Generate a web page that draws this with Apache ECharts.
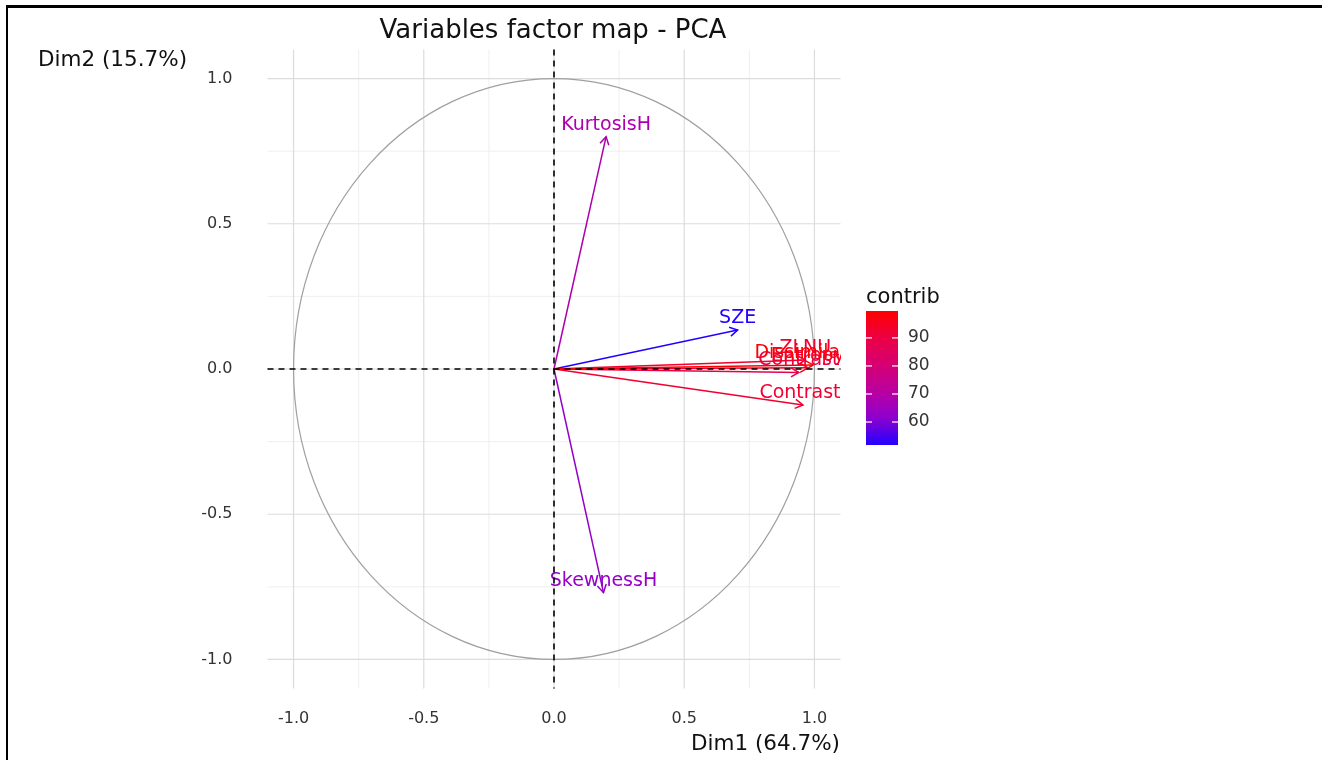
<!DOCTYPE html>
<html><head><meta charset="utf-8">
<script src="https://cdn.jsdelivr.net/npm/echarts@6/dist/echarts.min.js"></script>
<style>html,body{margin:0;padding:0;background:#fff}#c{width:1322px;height:760px}</style>
</head><body><div id="c"></div>
<script>
// ---- data ----
const VAR_NAMES = ['KurtosisH', 'SkewnessH', 'SZE', 'Contrast.', 'Contrast', 'Entropy', 'ZLNU', 'Dissimilarity'];
const DIM1 = [0.200, 0.190, 0.705, 0.956, 0.940, 0.975, 0.965, 0.995];
const DIM2 = [0.800, -0.770, 0.134, -0.124, -0.012, 0.004, 0.031, 0.014];
const CONTRIB = [68, 63, 51.8, 93, 88.5, 95, 93.2, 99.0];
const AXIS_TICKS = [-1, -0.5, 0, 0.5, 1];
const MINOR_TICKS = [-0.75, -0.25, 0.25, 0.75];
const LEGEND_TICKS = [60, 70, 80, 90];
const CONTRIB_MIN = 51.8, CONTRIB_MAX = 99.6;
const AXIS_MIN = -1.1, AXIS_MAX = 1.1;
const CIRCLE_RADIUS = 1;
const GRAD = ['#2200FF', '#8D00CF', '#BA00A0', '#D60072', '#EC0044', '#FF0000'];
const TITLE = 'Variables factor map - PCA';
const XNAME = 'Dim1 (64.7%)', YNAME = 'Dim2 (15.7%)', LEGEND_TITLE = 'contrib';

const FONT = '"DejaVu Sans", sans-serif';
const chart = echarts.init(document.getElementById('c'), null, {renderer: 'canvas'});

const gridData = MINOR_TICKS.map(v => [v, 0]).concat(AXIS_TICKS.map(v => [v, 1]));
const arrowData = VAR_NAMES.map((n, i) => [DIM1[i], DIM2[i], CONTRIB[i]]);

const option = {
  animation: false,
  backgroundColor: '#fff',
  title: {
    text: TITLE, left: 553, top: 18, textAlign: 'center', padding: 0,
    textStyle: {fontFamily: FONT, fontSize: 26, fontWeight: 'normal', color: '#111'}
  },
  grid: [
    {left: 267.5, top: 49.5, width: 573, height: 639},
    {left: 866, top: 311, width: 32, height: 134}
  ],
  xAxis: [
    {gridIndex: 0, type: 'value', min: AXIS_MIN, max: AXIS_MAX,
     axisLine: {show: false}, axisTick: {show: false}, splitLine: {show: false},
     axisLabel: {customValues: AXIS_TICKS, formatter: v => v.toFixed(1), fontFamily: FONT, fontSize: 16, color: '#333', margin: 22}},
    {gridIndex: 1, type: 'value', min: 0, max: 1, show: false}
  ],
  yAxis: [
    {gridIndex: 0, type: 'value', min: AXIS_MIN, max: AXIS_MAX,
     axisLine: {show: false}, axisTick: {show: false}, splitLine: {show: false},
     axisLabel: {customValues: AXIS_TICKS, formatter: v => v.toFixed(1), fontFamily: FONT, fontSize: 16, color: '#333', margin: 35}},
    {gridIndex: 1, type: 'value', min: CONTRIB_MIN, max: CONTRIB_MAX, position: 'right',
     axisLine: {show: false}, axisTick: {show: false}, splitLine: {show: false},
     axisLabel: {customValues: LEGEND_TICKS, fontFamily: FONT, fontSize: 17, color: '#333', margin: 10}}
  ],
  visualMap: {
    type: 'continuous', show: false, min: CONTRIB_MIN, max: CONTRIB_MAX,
    dimension: 2, seriesIndex: 3, inRange: {color: GRAD}
  },
  graphic: [
    {type: 'rect', shape: {x: 7, y: 5, width: 1315, height: 3}, style: {fill: '#000'}},
    {type: 'rect', shape: {x: 6, y: 5, width: 2, height: 755}, style: {fill: '#000'}},
    {type: 'text', x: 38, y: 60, style: {text: YNAME, font: '21.5px ' + FONT, fill: '#111', verticalAlign: 'middle'}},
    {type: 'text', x: 840, y: 744, style: {text: XNAME, font: '21.5px ' + FONT, fill: '#111', align: 'right', verticalAlign: 'middle'}},
    {type: 'text', x: 866, y: 298, style: {text: LEGEND_TITLE, font: '21px ' + FONT, fill: '#111', verticalAlign: 'middle'}}
  ],
  series: [
    { // grid lines
      type: 'custom', xAxisIndex: 0, yAxisIndex: 0, silent: true, z: 1,
      data: gridData,
      renderItem: (params, api) => {
        const v = api.value(0), major = api.value(1) === 1;
        const p = api.coord([v, v]);
        const cs = params.coordSys;
        const st = {stroke: major ? '#dcdcdc' : '#efefef', lineWidth: major ? 1.2 : 1};
        return {type: 'group', children: [
          {type: 'line', shape: {x1: p[0], y1: cs.y, x2: p[0], y2: cs.y + cs.height}, style: st},
          {type: 'line', shape: {x1: cs.x, y1: p[1], x2: cs.x + cs.width, y2: p[1]}, style: st}
        ]};
      }
    },
    { // correlation circle
      type: 'custom', xAxisIndex: 0, yAxisIndex: 0, silent: true, z: 2,
      data: [[0, 0, CIRCLE_RADIUS]],
      renderItem: (params, api) => {
        const c = api.coord([api.value(0), api.value(1)]);
        const s = api.size([api.value(2), api.value(2)]);
        return {type: 'ellipse', shape: {cx: c[0], cy: c[1], rx: s[0], ry: s[1]},
                style: {fill: null, stroke: '#a0a0a0', lineWidth: 1.2}};
      }
    },
    { // zero lines
      type: 'custom', xAxisIndex: 0, yAxisIndex: 0, silent: true, z: 5,
      data: [[0, 0]],
      renderItem: (params, api) => {
        const p = api.coord([api.value(0), api.value(1)]);
        const cs = params.coordSys;
        const st = {stroke: '#000', lineWidth: 1.6, lineDash: [6, 5]};
        return {type: 'group', children: [
          {type: 'line', shape: {x1: p[0], y1: cs.y, x2: p[0], y2: cs.y + cs.height}, style: st},
          {type: 'line', shape: {x1: cs.x, y1: p[1], x2: cs.x + cs.width, y2: p[1]}, style: st}
        ]};
      }
    },
    { // arrows
      type: 'custom', xAxisIndex: 0, yAxisIndex: 0, z: 4, clip: true,
      dimensions: ['dim1', 'dim2', 'contrib'],
      data: arrowData,
      renderItem: (params, api) => {
        const o = api.coord([0, 0]);
        const t = api.coord([api.value(0), api.value(1)]);
        const color = api.visual('color');
        const ang = Math.atan2(t[1] - o[1], t[0] - o[0]);
        const L = 9, a = Math.PI / 6;
        const h1 = [t[0] - L * Math.cos(ang - a), t[1] - L * Math.sin(ang - a)];
        const h2 = [t[0] - L * Math.cos(ang + a), t[1] - L * Math.sin(ang + a)];
        return {type: 'group', children: [
          {type: 'line', shape: {x1: o[0], y1: o[1], x2: t[0], y2: t[1]}, style: {stroke: color, lineWidth: 1.5}},
          {type: 'polyline', shape: {points: [h1, t, h2]}, style: {stroke: color, lineWidth: 1.5, fill: null}},
          {type: 'text', x: t[0], y: t[1] - 12, style: {text: VAR_NAMES[params.dataIndex], fill: color,
            font: '19px ' + FONT, align: 'center', verticalAlign: 'middle'}}
        ]};
      }
    },
    { // colour bar
      type: 'custom', xAxisIndex: 1, yAxisIndex: 1, silent: true, z: 3,
      data: [[0, CONTRIB_MIN, 1, CONTRIB_MAX]],
      renderItem: (params, api) => {
        const p1 = api.coord([api.value(0), api.value(3)]);
        const p2 = api.coord([api.value(2), api.value(1)]);
        const stops = GRAD.map((c, i) => ({offset: 1 - i / (GRAD.length - 1), color: c})).reverse();
        const children = [{type: 'rect', shape: {x: p1[0], y: p1[1], width: p2[0] - p1[0], height: p2[1] - p1[1]},
          style: {fill: new echarts.graphic.LinearGradient(0, 0, 0, 1, stops)}}];
        LEGEND_TICKS.forEach(v => {
          const y = api.coord([0, v])[1];
          children.push({type: 'line', shape: {x1: p1[0], y1: y, x2: p1[0] + 6, y2: y}, style: {stroke: '#fff', lineWidth: 1.2}});
          children.push({type: 'line', shape: {x1: p2[0] - 6, y1: y, x2: p2[0], y2: y}, style: {stroke: '#fff', lineWidth: 1.2}});
        });
        return {type: 'group', children};
      }
    }
  ]
};
chart.setOption(option);
</script>
</body></html>
